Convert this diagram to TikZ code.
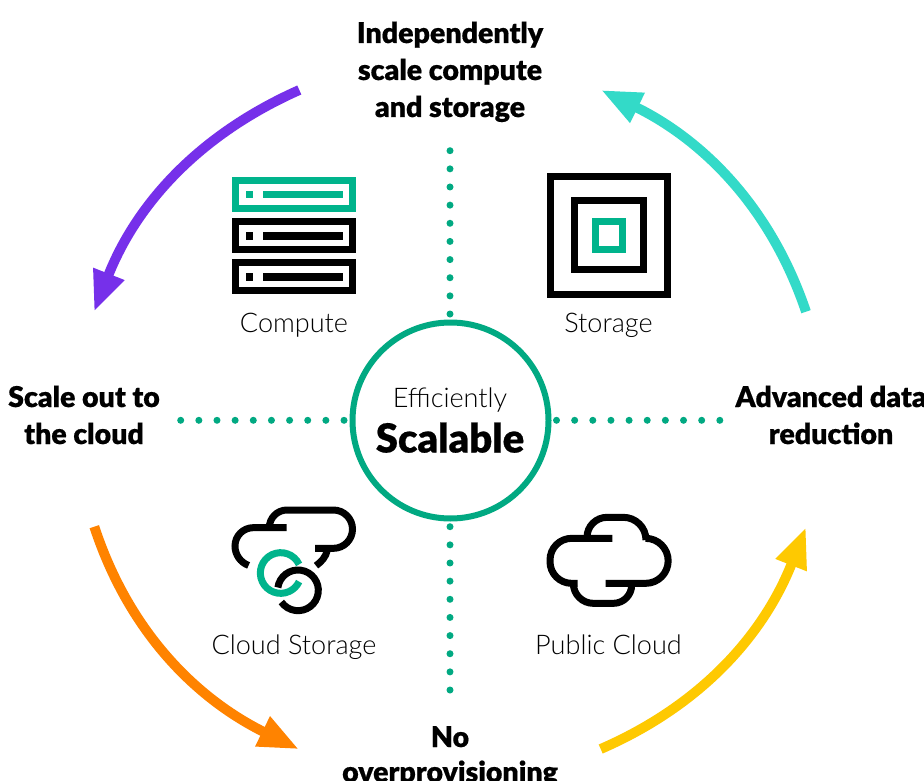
\documentclass[tikz,border=0pt]{standalone}
\usepackage{fontspec}
\usetikzlibrary{arrows.meta}
\setmainfont{Lato}
\newfontfamily\lightf{Lato Light}
\newfontfamily\blackf[FakeBold=0.5]{Lato Black}
\definecolor{hpe}{HTML}{01A982}
\definecolor{iconG}{HTML}{00B48C}
\definecolor{pur}{HTML}{7630EA}
\definecolor{tea}{HTML}{33DAC8}
\definecolor{ora}{HTML}{FF8300}
\definecolor{yel}{HTML}{FEC901}
\tikzset{
  px/.style={x=0.75pt,y=-0.75pt},
  head/.style={anchor=base,inner sep=0pt,font=\blackf\fontsize{21.4}{26}\selectfont},
  lab/.style={anchor=base,inner sep=0pt,font=\lightf\fontsize{20.3}{24}\selectfont},
  icon/.style={line width=5.25pt,line cap=butt},
  dots/.style={hpe,line width=5.25pt,line cap=round,dash pattern=on 0pt off 13.61pt},
  flow/.style={line width=7.4pt,-{Triangle[length=30.5pt,width=23pt]}},
}
\newcommand{\srv}[2]{%
  \draw[icon,#1] (235.2,#2) rectangle (352.5,#2+28);
  \fill[#1] (246,#2+10.4) rectangle (253,#2+17.8);
  \fill[#1] (263,#2+10.4) rectangle (343,#2+17.8);
}
\begin{document}
\begin{tikzpicture}[px]
\useasboundingbox (0,0) rectangle (924,781);
\clip (0,0) rectangle (924,781);
\fill[white] (0,0) rectangle (924,781);

% dotted axes
\coordinate (dT0) at (450,150.7); \coordinate (dT1) at (450,315);
\coordinate (dB0) at (450,526.7); \coordinate (dB1) at (450,691);
\coordinate (dL0) at (180.7,420.3); \coordinate (dL1) at (345,420.3);
\coordinate (dR0) at (556.5,420.3); \coordinate (dR1) at (721,420.3);
\draw[dots] (dT0) -- (dT1);
\draw[dots] (dB0) -- (dB1);
\draw[dots] (dL0) -- (dL1);
\draw[dots] (dR0) -- (dR1);

% centre
\node[circle,draw=hpe,line width=4.5pt,minimum size=147pt,inner sep=0pt] (hub) at (450.5,420.5) {};
\node[lab] (eff) at (450,407.5) {Efficiently};
\node[anchor=base,inner sep=0pt,font=\blackf\fontsize{30}{34}\selectfont] (sca) at (450,452.5) {Scalable};

% flows
\coordinate (pS) at (299.3,90); \coordinate (pE) at (94,311.7);
\coordinate (tS) at (806,311.7); \coordinate (tE) at (601,90);
\coordinate (oS) at (94.3,526.7); \coordinate (oE) at (299,749.3);
\coordinate (yS) at (600.7,749); \coordinate (yE) at (806,527.3);
\draw[flow,pur] (pS) .. controls (198,135) and (136,205) .. (pE);
\draw[flow,tea] (tS) .. controls (770,205) and (701,139) .. (tE);
\draw[flow,ora] (oS) .. controls (130,635) and (199,700) .. (oE);
\draw[flow,yel] (yS) .. controls (702,705) and (764,634) .. (yE);

% heads
\node[head] (h1) at (450,43) {Independently};
\node[head] (h2) at (450,80) {scale compute};
\node[head] (h3) at (450,117) {and storage};
\node[head] (l1) at (84,407) {Scale out to};
\node[head] (l2) at (84,444) {the cloud};
\node[head] (r1) at (831,407) {Advanced data};
\node[head] (r2) at (831,444) {reduction};
\node[head] (b1) at (450,747) {No};
\node[head] (b2) at (450,782) {overprovisioning};

% labels
\node[lab] (c1) at (294,332) {Compute};
\node[lab] (c2) at (608.5,332) {Storage};
\node[lab] (c3) at (294,654) {Cloud Storage};
\node[lab] (c4) at (608.5,654) {Public Cloud};

% compute icon
\srv{iconG}{180.2}
\srv{black}{221.8}
\srv{black}{262.8}

% storage icon
\draw[icon,black] (550.2,176.8) rectangle (667.5,294.2);
\draw[icon,black] (574.2,200.8) rectangle (643.2,269.8);
\draw[icon,iconG] (595.2,221.8) rectangle (622.5,249.2);

% public cloud icon
\begin{scope}[shift={(535,500)},x=0.25pt,y=-0.25pt,line width=5.25pt]
\draw (232,115) -- (110,115) arc[start angle=-90,end angle=-180,radius=65] -- (45,185) arc[start angle=-180,end angle=-270,radius=65] -- (128,250);
\draw (115,250) arc[start angle=-180,end angle=-270,radius=60] -- (235,310) arc[start angle=-270,end angle=-360,radius=55];
\draw (212,250) -- (332,250) arc[start angle=-270,end angle=-450,radius=67.5];
\draw (156,112) arc[start angle=-180,end angle=-90,radius=60] -- (265,52) arc[start angle=-90,end angle=0,radius=68];
\end{scope}

% cloud storage icon
\begin{scope}[shift={(220,495)},x=0.25pt,y=-0.25pt,line width=5.25pt]
\draw (200,98) -- (100,98) arc[start angle=-90,end angle=-180,radius=55] arc[start angle=-180,end angle=-250,radius=62];
\draw (148,98) arc[start angle=-180,end angle=-90,radius=53] -- (340,45) arc[start angle=-90,end angle=90,radius=57.5] -- (285,160);
\draw (322,165) .. controls (318,185) and (305,200) .. (288,212);
\draw[iconG] (182,234) ++(-25:61) arc[start angle=-25,end angle=-335,radius=61];
\draw[black] (234,286) ++(-172:61) arc[start angle=-172,end angle=145,radius=61];
\end{scope}
\end{tikzpicture}
\end{document}
